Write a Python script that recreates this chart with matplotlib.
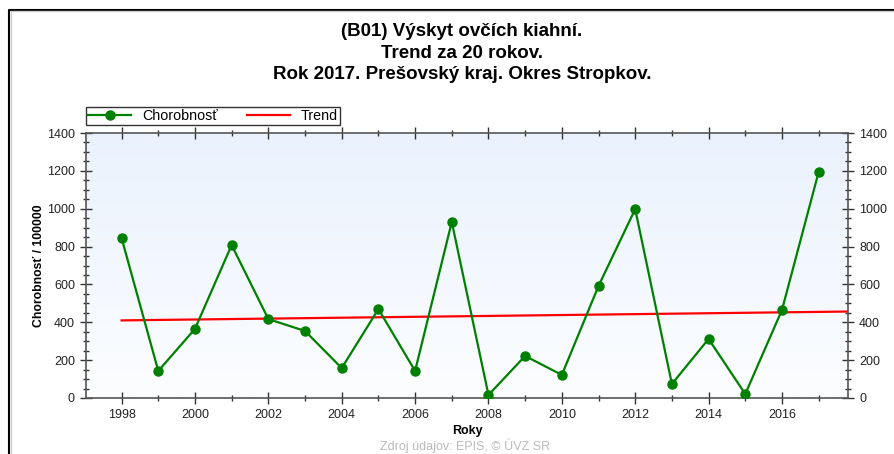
import numpy as np
import matplotlib
matplotlib.use("Agg")
import matplotlib.pyplot as plt
from matplotlib.ticker import MultipleLocator
from matplotlib.lines import Line2D

plt.rcParams['font.family'] = ['Liberation Sans', 'DejaVu Sans']

years = [1998, 1999, 2000, 2001, 2002, 2003, 2004, 2005, 2006, 2007,
         2008, 2009, 2010, 2011, 2012, 2013, 2014, 2015, 2016, 2017]
chorobnost = [845, 143, 365, 808, 417, 354, 158, 470, 143, 930,
              16, 222, 122, 592, 998, 74, 312, 21, 465, 1194]

title = "(B01) Výskyt ovčích kiahní.\nTrend za 20 rokov.\nRok 2017. Prešovský kraj. Okres Stropkov."
ylabel = "Chorobnosť / 100000"
xlabel = "Roky"
source = "Zdroj údajov: EPIS, © ÚVZ SR"

W, H = 895, 454
fig = plt.figure(figsize=(W / 100, H / 100), dpi=100)
fig.patch.set_facecolor('white')

# axes placement in pixels
left, right, top, bottom = 86, 848, 133, 398
ax = fig.add_axes([left / W, 1 - bottom / H, (right - left) / W, (bottom - top) / H])

x0, x1 = 1997.03, 2017.8
ax.set_xlim(x0, x1)
ax.set_ylim(0, 1400)

# gradient background
grad = np.linspace(0, 1, 256).reshape(-1, 1)
top_c = np.array([234, 242, 253]) / 255
bot_c = np.array([252, 253, 255]) / 255
img = top_c[None, None, :] * (1 - grad[:, :, None]) + bot_c[None, None, :] * grad[:, :, None]
ax.imshow(img, extent=[x0, x1, 0, 1400], aspect='auto', origin='upper', zorder=0)

# trend (least squares fit of data)
coef = np.polyfit(years, chorobnost, 1)
tx = np.array([years[0], x1])
ax.plot(tx, np.polyval(coef, tx), color='#ff0000', lw=1.6, zorder=2)

ax.plot(years, chorobnost, color='#008000', lw=1.6, marker='o', markersize=6.5,
        markerfacecolor='#008000', markeredgecolor='#008000', zorder=3)

spine_c = '#555555'
for s in ax.spines.values():
    s.set_color(spine_c)
    s.set_linewidth(1.2)

ax.xaxis.set_major_locator(MultipleLocator(2))
ax.xaxis.set_minor_locator(MultipleLocator(1))
ax.yaxis.set_major_locator(MultipleLocator(200))
ax.yaxis.set_minor_locator(MultipleLocator(50))
ax.tick_params(axis='both', which='major', direction='inout', length=8, width=1,
               color='#333333', labelsize=9, labelcolor='#222222',
               top=True, right=True, labelright=True, labeltop=False)
ax.tick_params(axis='both', which='minor', direction='inout', length=5, width=1,
               color='#333333', top=True, right=True)
ax.tick_params(axis='x', which='major', pad=4)
ax.tick_params(axis='y', which='major', pad=4)

ax.set_xlabel(xlabel, fontsize=9, fontweight='bold', labelpad=3)
ax.set_ylabel(ylabel, fontsize=8.8, fontweight='bold', labelpad=1)

fig.text(462 / W, 1 - 53 / H, title, ha='center', va='center', fontsize=13.5,
         fontweight='bold', linespacing=1.35)

fig.text(465 / W, 1 - 446 / H, source, ha='center', va='center', fontsize=9,
         color='#bbbbbb')

# legend
handles = [Line2D([0], [0], color='#008000', lw=1.6, marker='o', markersize=6.5),
           Line2D([0], [0], color='#ff0000', lw=1.6)]
leg = fig.legend(handles, ['Chorobnosť', 'Trend'], loc='upper left',
                 bbox_to_anchor=(86 / W, 1 - 107 / H), ncol=2, fontsize=10.3,
                 frameon=True, fancybox=False, borderpad=0.15, handlelength=3,
                 columnspacing=2.0, handletextpad=0.8, borderaxespad=0)
leg.get_frame().set_edgecolor('black')
leg.get_frame().set_linewidth(1.0)

# outer frame (left and top)
fig.add_artist(Line2D([9.5 / W, 9.5 / W, 1], [0, 1 - 9.5 / H, 1 - 9.5 / H],
                      transform=fig.transFigure, color='black', lw=1.5))
fig.add_artist(Line2D([11 / W, 11 / W, 1], [0, 1 - 11 / H, 1 - 11 / H],
                      transform=fig.transFigure, color='#cccccc', lw=1))

fig.savefig('out.png', dpi=100)
